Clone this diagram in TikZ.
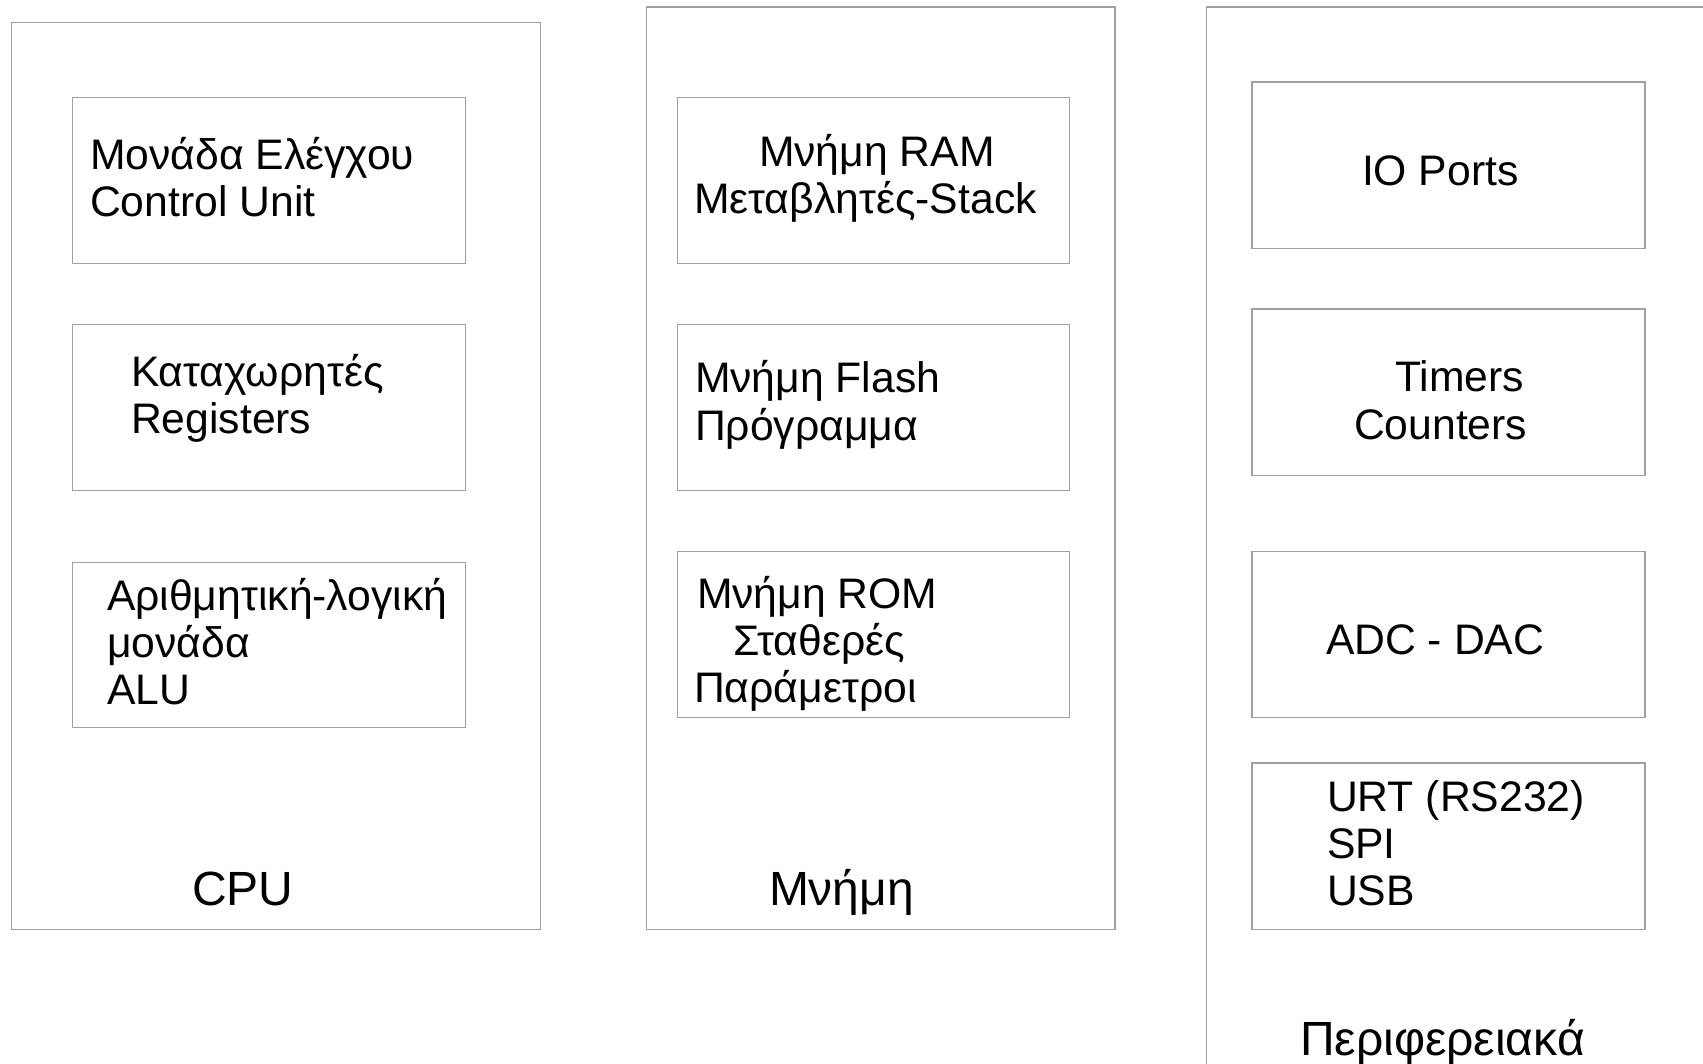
\documentclass[tikz,border=0pt]{standalone}
\usepackage{fontspec}
\setmainfont{Liberation Sans}
\begin{document}
\begin{tikzpicture}[x=1pt,y=-1pt,
  frame/.style={draw={rgb,255:red,160;green,160;blue,160}, line width=1.2pt,
    rectangle, inner sep=0pt, anchor=north west},
  lbl/.style={anchor=base west, inner sep=0pt, outer sep=0pt,
    font=\fontsize{42.7}{47}\selectfont},
  ttl/.style={anchor=base west, inner sep=0pt, outer sep=0pt,
    font=\fontsize{48}{54}\selectfont}]
\useasboundingbox[fill=white] (0,0) rectangle (1703,1064);
\clip (0,0) rectangle (1703,1064);

% CPU group
\node[frame, minimum width=528.9pt, minimum height=906.9pt] (cpu) at (10.9,21.7) {};
\node[frame, minimum width=393.2pt, minimum height=166.1pt] (cu)  at (71.7,96.7) {};
\node[frame, minimum width=393.2pt, minimum height=166.1pt] (reg) at (71.7,323.7) {};
\node[frame, minimum width=393.2pt, minimum height=165.1pt] (alu) at (71.7,561.5) {};
\node[lbl] (cuA)  at (90,170)  {Μονάδα Ελέγχου};
\node[lbl] (cuB)  at (90,217)  {Control Unit};
\node[lbl] (regA) at (131,387) {Καταχωρητές};
\node[lbl] (regB) at (131,434) {Registers};
\node[lbl] (aluA) at (107,610) {Αριθμητική-λογική};
\node[lbl] (aluB) at (107,657) {μονάδα};
\node[lbl] (aluC) at (107,704) {ALU};
\node[ttl] (cpuT) at (192,905) {CPU};

% Memory group
\node[frame, minimum width=468.1pt, minimum height=922.1pt] (mem) at (646.2,6.5) {};
\node[frame, minimum width=392.1pt, minimum height=166.1pt] (ram)   at (676.6,96.7) {};
\node[frame, minimum width=392.1pt, minimum height=166.1pt] (flash) at (676.6,323.7) {};
\node[frame, minimum width=392.1pt, minimum height=166.1pt] (rom)   at (676.6,550.7) {};
\node[lbl] (ramA) at (759,167) {Μνήμη RAM};
\node[lbl] (ramB) at (694,214) {Μεταβλητές-Stack};
\node[lbl] (flA)  at (695,393) {Μνήμη Flash};
\node[lbl] (flB)  at (695,440) {Πρόγραμμα};
\node[lbl] (romA) at (697,608) {Μνήμη ROM};
\node[lbl] (romB) at (733,655) {Σταθερές};
\node[lbl] (romC) at (694,702) {Παράμετροι};
\node[ttl] (memT) at (769,905) {Μνήμη};

% Peripherals group (runs past the page edge)
\node[frame, minimum width=700pt, minimum height=1200pt] (per) at (1205.6,6.5) {};
\node[frame, minimum width=393.1pt, minimum height=166.1pt] (io)   at (1251.3,81.5) {};
\node[frame, minimum width=393.1pt, minimum height=166.1pt] (tim)  at (1251.3,308.4) {};
\node[frame, minimum width=393.1pt, minimum height=166.1pt] (adc)  at (1251.3,550.7) {};
\node[frame, minimum width=393.1pt, minimum height=166.2pt] (uart) at (1251.3,762.4) {};
\node[lbl] (ioT)  at (1362,186) {IO Ports};
\node[lbl] (timA) at (1395,392) {Timers};
\node[lbl] (timB) at (1354,439) {Counters};
\node[lbl] (adcT) at (1326,654) {ADC - DAC};
\node[lbl] (urA)  at (1327,811) {URT (RS232)};
\node[lbl] (urB)  at (1327,858) {SPI};
\node[lbl] (urC)  at (1327,905) {USB};
\node[ttl] (perT) at (1300,1055) {Περιφερειακά};
\end{tikzpicture}
\end{document}
